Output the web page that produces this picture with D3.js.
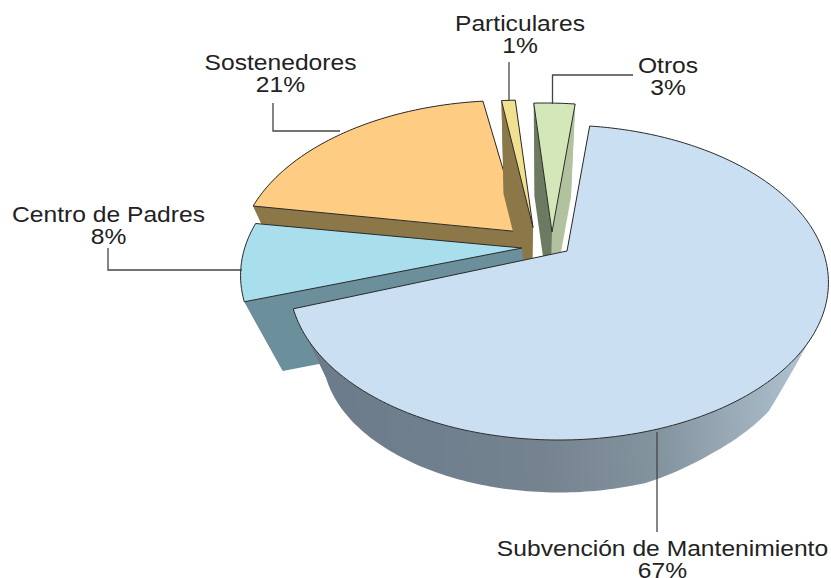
<!DOCTYPE html>
<html><head><meta charset="utf-8">
<script src="https://cdn.jsdelivr.net/npm/d3@7/dist/d3.min.js"></script>
<style>html,body{margin:0;padding:0;background:#fff}svg{display:block}
text{font-family:"Liberation Sans",Arial,sans-serif;font-size:22px;fill:#222;text-anchor:middle}</style>
</head><body><svg id="c" width="831" height="578"></svg>
<script>
const categories=["Subvención de Mantenimiento","Centro de Padres","Sostenedores","Particulares","Otros"];
const values=[67,8,21,1,3];
const percentLabels=["67%","8%","21%","1%","3%"];
const topColors=["#cbdff2","#a9deec","#fecd83","#f0e08f","#d4e7b9"];
const wallStart=["url(#mw)","#6b8f9b","#8c7748","#8c7748","#6b7a60"];
const wallEnd=["url(#mw)","#6b8f9b","#8c7748","#8c7748","#b2c29e"];
const discX=[559,510,507.5,526,544.5];
const discY=[251,244,226.5,226,229];
const apexDX=[8,12,14,7,7.5];
const apexDY=[0,4,5.5,1.5,3];
const vanishX=[560,560,560,520,540];
const drawOrder=[2,3,4,1,0];
const leaders=[
 [[657,432],[657,532]],
 [[108,248],[108,270],[242,270]],
 [[273,103],[273,131],[340,131]],
 [[509,62],[509,101]],
 [[633,75],[552.5,75],[552.5,104]]];
const labelX=[662.5,108.5,280.5,520,668];
const labelY=[556,222,70,31,73];
const wallAngles=[118,123,130,147,162,260];
const wallShrink=[1,0.995,0.905,0.895,0.878,0.878];

const depth=5,fx=1320,fy=756,vanishY=870,shrink=0.878,textStretch=1.12,lineGap=21.5;
const svg=d3.select("#c");
const g=svg.append("defs").append("linearGradient").attr("id","mw")
 .attr("gradientUnits","userSpaceOnUse").attr("x1",320).attr("y1",440).attr("x2",800).attr("y2",400);
[[0,"#6c7b8b"],[0.45,"#74838f"],[0.7,"#84949f"],[1,"#aebfcd"]].forEach(s=>g.append("stop").attr("offset",s[0]).attr("stop-color",s[1]));

const mainShrink=d3.scaleLinear().domain(wallAngles).range(wallShrink).clamp(true);
const pie=d3.pie().sort(null).startAngle(8*Math.PI/180).endAngle(368*Math.PI/180);
const arcs=pie(values);
const rim=(i,a)=>{const X=Math.sin(a),Y=Math.cos(a),w=depth+Y;
 return [discX[i]+fx*X/w,discY[i]-fy*Y/w];};
const apex=i=>[discX[i]+apexDX[i],discY[i]+apexDY[i]];
const drop=(i,p,s=shrink)=>[vanishX[i]+s*(p[0]-vanishX[i]),vanishY+s*(p[1]-vanishY)];
const line=d3.line();
const samples=(a0,a1)=>{const n=Math.max(4,Math.ceil((a1-a0)*60));return d3.range(n+1).map(k=>a0+(a1-a0)*k/n);};

drawOrder.forEach(i=>{
 const d=arcs[i],angles=samples(d.startAngle,d.endAngle),pts=angles.map(a=>rim(i,a));
 const A=apex(i),dA=drop(i,A),first=pts[0],last=pts[pts.length-1];
 const lower=pts.map((p,k)=>drop(i,p,i===0?mainShrink(angles[k]*180/Math.PI):shrink));
 const s=svg.append("g");
 s.append("path").attr("d",line(pts.concat(lower.slice().reverse()))+"Z").attr("fill",wallEnd[i]);
 s.append("path").attr("d",line([A,last,lower[lower.length-1],dA])+"Z").attr("fill",wallEnd[i]);
 s.append("path").attr("d",line([A,first,lower[0],dA])+"Z").attr("fill",wallStart[i]);
 s.append("path").attr("d",line([A,...pts])+"Z").attr("fill",topColors[i])
  .attr("stroke","#2a2a2a").attr("stroke-width",1).attr("stroke-linejoin","miter");
});
leaders.forEach(l=>svg.append("path").attr("d",line(l)).attr("fill","none").attr("stroke","#444").attr("stroke-width",1.3));
const put=(t,x,y)=>svg.append("text").attr("transform",`translate(${x},${y}) scale(${textStretch},1)`).text(t);
categories.forEach((c,i)=>{
 put(c,labelX[i],labelY[i]);
 put(percentLabels[i],labelX[i],labelY[i]+lineGap);
});
</script></body></html>
